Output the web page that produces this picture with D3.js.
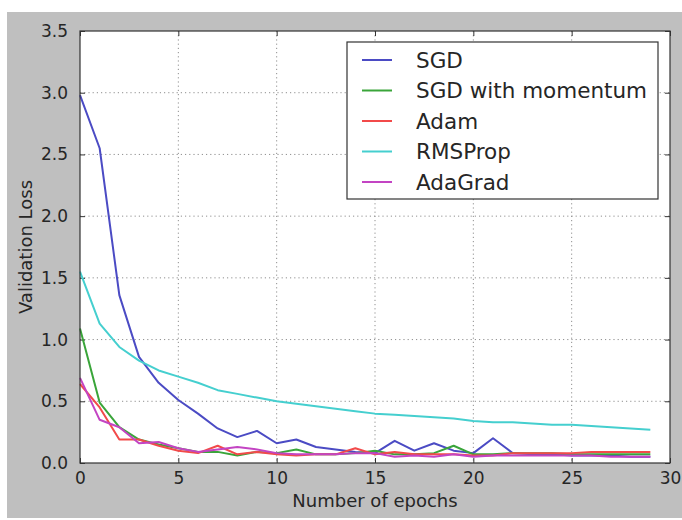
<!DOCTYPE html>
<html>
<head>
<meta charset="utf-8">
<script src="https://cdn.jsdelivr.net/npm/d3@7"></script>
<style>
  body { margin: 0; background: #fff; }
  text { font-family: "DejaVu Sans", sans-serif; fill: #262626; }
</style>
</head>
<body>
<div id="chart"></div>
<script>
// values
var epochs = d3.range(0, 30);
var seriesNames = ["SGD", "SGD with momentum", "Adam", "RMSProp", "AdaGrad"];
var seriesColors = ["#4b4bc4", "#3aa53a", "#f24a4a", "#45cfcf", "#c344c3"];

var sgd = [2.98, 2.55, 1.36, 0.86, 0.65, 0.51, 0.40, 0.28, 0.21, 0.26,
           0.16, 0.19, 0.13, 0.11, 0.09, 0.08, 0.18, 0.10, 0.16, 0.10,
           0.08, 0.20, 0.08, 0.07, 0.07, 0.06, 0.06, 0.06, 0.05, 0.05];
var sgdMomentum = [1.09, 0.49, 0.29, 0.19, 0.15, 0.12, 0.09, 0.09, 0.06, 0.09,
                   0.08, 0.11, 0.07, 0.07, 0.08, 0.10, 0.07, 0.07, 0.08, 0.14,
                   0.07, 0.07, 0.08, 0.08, 0.08, 0.07, 0.07, 0.07, 0.07, 0.07];
var adam = [0.64, 0.45, 0.19, 0.19, 0.14, 0.10, 0.08, 0.14, 0.07, 0.09,
            0.07, 0.06, 0.07, 0.07, 0.12, 0.07, 0.09, 0.07, 0.07, 0.07,
            0.06, 0.06, 0.08, 0.08, 0.08, 0.08, 0.09, 0.09, 0.09, 0.09];
var rmsprop = [1.55, 1.13, 0.94, 0.83, 0.75, 0.70, 0.65, 0.59, 0.56, 0.53,
               0.50, 0.48, 0.46, 0.44, 0.42, 0.40, 0.39, 0.38, 0.37, 0.36,
               0.34, 0.33, 0.33, 0.32, 0.31, 0.31, 0.30, 0.29, 0.28, 0.27];
var adagrad = [0.69, 0.35, 0.29, 0.16, 0.17, 0.12, 0.09, 0.11, 0.13, 0.11,
               0.08, 0.07, 0.07, 0.07, 0.08, 0.08, 0.05, 0.06, 0.05, 0.07,
               0.05, 0.06, 0.06, 0.06, 0.06, 0.06, 0.06, 0.05, 0.05, 0.05];

var xTicks = [0, 5, 10, 15, 20, 25, 30];
var yTicks = [0.0, 0.5, 1.0, 1.5, 2.0, 2.5, 3.0, 3.5];

var allSeries = [sgd, sgdMomentum, adam, rmsprop, adagrad];

var svgWidth = 682;
var svgHeight = 520;
var margin = { top: 31, right: 12, bottom: 57, left: 80 };
var width = svgWidth - margin.left - margin.right;
var height = svgHeight - margin.top - margin.bottom;

var svg = d3.select("#chart")
  .append("svg")
  .attr("width", svgWidth)
  .attr("height", svgHeight);

// grey figure background
svg.append("rect")
  .attr("x", 7).attr("y", 12)
  .attr("width", svgWidth - 7).attr("height", 506)
  .attr("fill", "#bfbfbf");

var chartGroup = svg.append("g")
  .attr("transform", `translate(${margin.left}, ${margin.top})`);

chartGroup.append("rect")
  .attr("width", width).attr("height", height)
  .attr("fill", "#fff");

var xScale = d3.scaleLinear().domain([0, 30]).range([0, width]);
var yScale = d3.scaleLinear().domain([0, 3.5]).range([height, 0]);

// dotted grid
chartGroup.append("g")
  .selectAll("line")
  .data(xTicks.slice(1, -1))
  .enter()
  .append("line")
  .attr("x1", d => xScale(d)).attr("x2", d => xScale(d))
  .attr("y1", 0).attr("y2", height)
  .attr("stroke", "#8f8f8f")
  .attr("stroke-dasharray", "1.2,3");

chartGroup.append("g")
  .selectAll("line")
  .data(yTicks.slice(1, -1))
  .enter()
  .append("line")
  .attr("y1", d => yScale(d)).attr("y2", d => yScale(d))
  .attr("x1", 0).attr("x2", width)
  .attr("stroke", "#8f8f8f")
  .attr("stroke-dasharray", "1.2,3");

// axes, ticks pointing inward
var bottomAxis = d3.axisBottom(xScale).tickValues(xTicks).tickSize(-5).tickPadding(9).tickFormat(d3.format("d"));
var topAxis = d3.axisTop(xScale).tickValues(xTicks).tickSize(-5).tickFormat("");
var leftAxis = d3.axisLeft(yScale).tickValues(yTicks).tickSize(-5).tickPadding(12).tickFormat(d3.format(".1f"));
var rightAxis = d3.axisRight(yScale).tickValues(yTicks).tickSize(-5).tickFormat("");

function styleAxis(g) {
  g.select(".domain").remove();
  g.selectAll(".tick line").attr("stroke", "#333");
  g.selectAll(".tick text")
    .attr("fill", "#262626")
    .style("font-family", "DejaVu Sans, sans-serif")
    .style("font-size", "17px");
}

chartGroup.append("g").attr("transform", `translate(0, ${height})`).call(bottomAxis).call(styleAxis);
chartGroup.append("g").call(topAxis).call(styleAxis);
chartGroup.append("g").call(leftAxis).call(styleAxis);
chartGroup.append("g").attr("transform", `translate(${width}, 0)`).call(rightAxis).call(styleAxis);

// lines
var line = d3.line()
  .x((d, i) => xScale(epochs[i]))
  .y(d => yScale(d));

chartGroup.append("g")
  .selectAll("path")
  .data(allSeries)
  .enter()
  .append("path")
  .attr("d", d => line(d))
  .attr("fill", "none")
  .attr("stroke", (d, i) => seriesColors[i])
  .attr("stroke-width", 2)
  .attr("stroke-linejoin", "round");

// frame
chartGroup.append("rect")
  .attr("width", width).attr("height", height)
  .attr("fill", "none")
  .attr("stroke", "#333")
  .attr("stroke-width", 1.2);

// axis labels
chartGroup.append("text")
  .attr("x", width / 2)
  .attr("y", height + 44)
  .attr("text-anchor", "middle")
  .style("font-size", "18px")
  .text("Number of epochs");

chartGroup.append("text")
  .attr("transform", `translate(-48, ${height / 2}) rotate(-90)`)
  .attr("text-anchor", "middle")
  .style("font-size", "18px")
  .text("Validation Loss");

// legend
var legend = svg.append("g").attr("transform", "translate(347, 42)");

legend.append("rect")
  .attr("width", 311).attr("height", 157)
  .attr("fill", "#fff")
  .attr("stroke", "#333")
  .attr("stroke-width", 1.2);

var items = legend.selectAll(".item")
  .data(seriesNames)
  .enter()
  .append("g")
  .attr("transform", (d, i) => `translate(0, ${18 + i * 30.5})`);

items.append("line")
  .attr("x1", 15).attr("x2", 45)
  .attr("y1", 0).attr("y2", 0)
  .attr("stroke", (d, i) => seriesColors[i])
  .attr("stroke-width", 2);

items.append("text")
  .attr("x", 69)
  .attr("y", 0)
  .attr("dy", "0.36em")
  .style("font-size", "21.5px")
  .text(d => d);
</script>
</body>
</html>
